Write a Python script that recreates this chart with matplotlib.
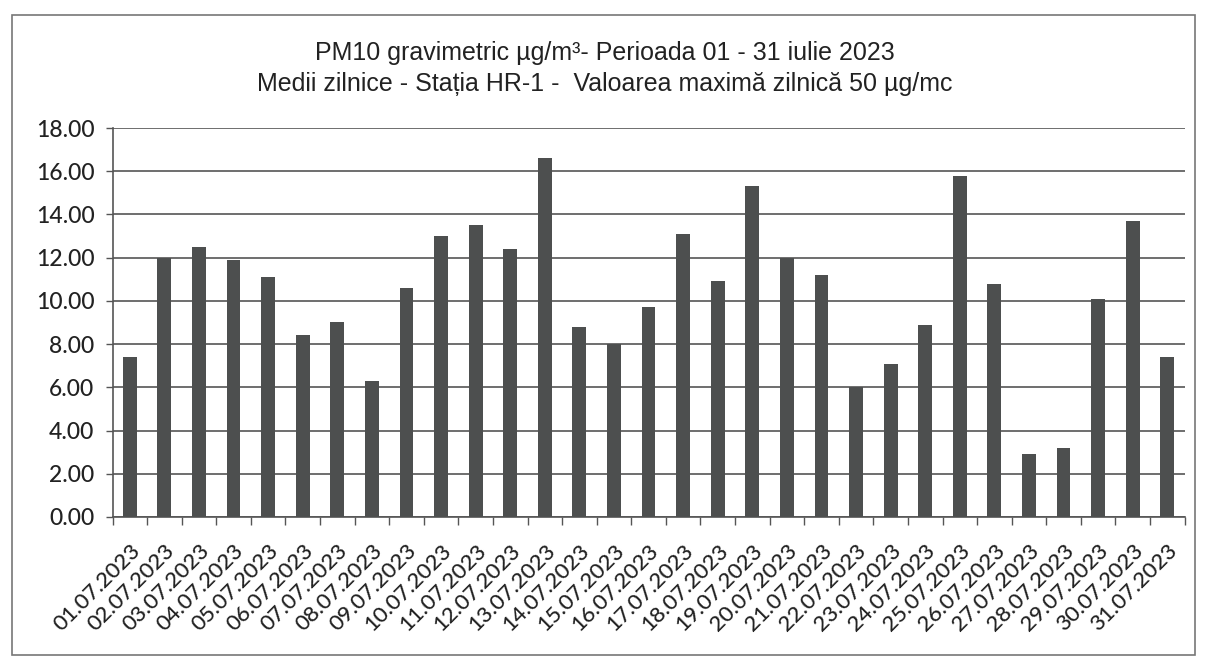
import matplotlib.pyplot as plt
from matplotlib.patches import Rectangle

# Daily PM10 averages, July 2023 (station HR-1)
dates = ["%02d.07.2023" % d for d in range(1, 32)]
values = [7.4, 12.0, 12.5, 11.9, 11.1, 8.4, 9.0, 6.3, 10.6, 13.0,
          13.5, 12.4, 16.6, 8.8, 8.0, 9.7, 13.1, 10.9, 15.3, 12.0,
          11.2, 6.0, 7.1, 8.9, 15.8, 10.8, 2.9, 3.2, 10.1, 13.7, 7.4]
y_ticks = [0, 2, 4, 6, 8, 10, 12, 14, 16, 18]

title = ("PM10 gravimetric µg/m³- Perioada 01 - 31 iulie 2023\n"
         "Medii zilnice - Stația HR-1 -  Valoarea maximă zilnică 50 µg/mc")

lbl_font = ["Lato", "DejaVu Sans"]

fig = plt.figure(figsize=(12.1, 6.67), dpi=100)
ax = fig.add_axes([0.093, 0.225, 0.886, 0.583])

# outer chart frame
fig.patches.append(Rectangle((0.010, 0.018), 0.978, 0.960, transform=fig.transFigure,
                             fill=False, edgecolor="#777777", linewidth=1.2))

x = list(range(len(values)))
ax.bar(x, values, width=0.4, color="#4d4f4f", zorder=3)

ax.set_xlim(-0.5, len(values) - 0.5)
ax.set_ylim(0, 18)
ax.set_yticks(y_ticks)
ax.set_yticklabels(["%.2f" % v for v in y_ticks], fontsize=16.5, color="#222222",
                   family=lbl_font, fontweight="medium")
ax.yaxis.grid(True, color="#555555", linewidth=1.2, zorder=0)
ax.tick_params(axis="y", length=5, width=1, color="#555555", pad=8)

ax.set_xticks(x)
ax.set_xticklabels(dates, rotation=45, ha="right", rotation_mode="anchor",
                   fontsize=16, color="#222222", family=lbl_font,
                   fontweight="medium")
ax.set_xticks([i + 0.5 for i in range(-1, len(values))], minor=True)
ax.tick_params(axis="x", which="major", length=0, pad=17)
ax.tick_params(axis="x", which="minor", length=6, width=1, color="#555555")

for side in ["top", "right"]:
    ax.spines[side].set_visible(False)
for side in ["left", "bottom"]:
    ax.spines[side].set_color("#555555")
    ax.spines[side].set_linewidth(1.2)

fig.text(0.5, 0.897, title, ha="center", va="center", fontsize=18,
         family=["Liberation Sans Narrow", "Liberation Sans", "DejaVu Sans"],
         linespacing=1.35, color="#222222")

fig.savefig("out.png", dpi=100)
